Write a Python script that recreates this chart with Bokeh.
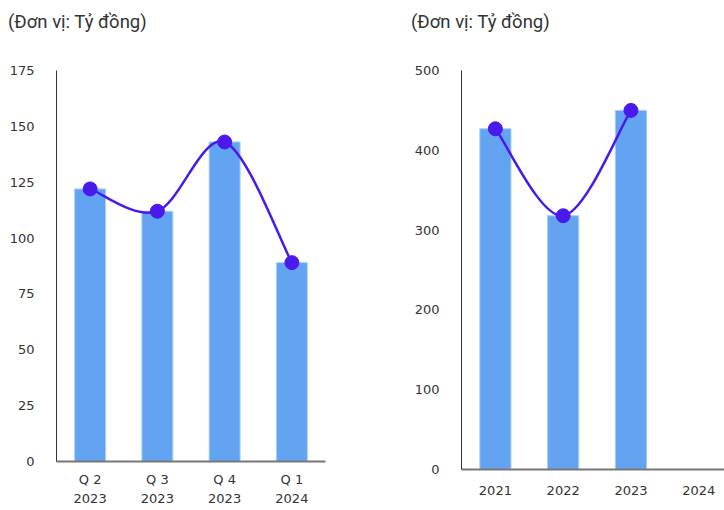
from bokeh.plotting import figure
from bokeh.layouts import row, column
from bokeh.models import Range1d, FixedTicker, LinearAxis, Div
from bokeh.embed import file_html
from bokeh.resources import INLINE

# ---- data ----
q_labels = ["Q 2", "Q 3", "Q 4", "Q 1"]
q_years = ["2023", "2023", "2023", "2024"]
q_values = [122, 112, 143, 89]
y_labels = ["2021", "2022", "2023", "2024"]
y_values = [427, 318, 450]
unit_title = "(Đơn vị: Tỷ đồng)"

BAR = "#63A4F2"
BAR_EDGE = "#A8CCF8"
LINE = "#4A1AEC"
TXT = "#333333"
TICK_FONT = "DejaVu Sans"


def catmull_rom(xs, ys):
    n = len(xs)
    x0, y0, x1, y1, cx0, cy0, cx1, cy1 = ([] for _ in range(8))
    for i in range(n - 1):
        pm = max(i - 1, 0)
        pp = min(i + 2, n - 1)
        x0.append(xs[i]); y0.append(ys[i])
        x1.append(xs[i + 1]); y1.append(ys[i + 1])
        cx0.append(xs[i] + (xs[i + 1] - xs[pm]) / 6)
        cy0.append(ys[i] + (ys[i + 1] - ys[pm]) / 6)
        cx1.append(xs[i + 1] - (xs[pp] - xs[i]) / 6)
        cy1.append(ys[i + 1] - (ys[pp] - ys[i]) / 6)
    return dict(x0=x0, y0=y0, x1=x1, y1=y1, cx0=cx0, cy0=cy0, cx1=cx1, cy1=cy1)


def style_axis(ax):
    ax.major_tick_line_color = None
    ax.minor_tick_line_color = None
    ax.major_label_text_font = TICK_FONT
    ax.major_label_text_font_size = "13px"
    ax.major_label_text_color = TXT


def make_chart(labels, values, ymax, ystep, fw, fh, xmax, bl, br, bb, pad, years=None):
    p = figure(frame_width=fw, frame_height=fh, output_backend="svg", toolbar_location=None,
               x_range=Range1d(0.5, xmax), y_range=Range1d(0, ymax),
               min_border_left=bl, min_border_right=br,
               min_border_top=26, min_border_bottom=bb)
    p.border_fill_color = "white"
    p.outline_line_color = None
    p.grid.visible = False

    xs = list(range(1, len(values) + 1))
    p.vbar(x=xs, top=values, width=0.46, fill_color=BAR, line_color=BAR_EDGE, line_width=1)
    p.bezier(**catmull_rom(xs, values), line_color=LINE, line_width=2.5)
    p.scatter(xs, values, size=14, fill_color=LINE, line_color=LINE)

    ticks = list(range(1, len(labels) + 1))
    xax = p.below[0]
    xax.ticker = FixedTicker(ticks=ticks)
    xax.major_label_overrides = {t: l for t, l in zip(ticks, labels)}
    yax = p.left[0]
    yax.ticker = FixedTicker(ticks=list(range(0, ymax + 1, ystep)))
    style_axis(xax)
    style_axis(yax)
    yax.axis_line_color = "#333333"
    yax.axis_line_width = 1
    yax.major_label_standoff = 16
    xax.axis_line_color = "#777777"
    xax.axis_line_width = 2
    if years is not None:
        xax.major_label_standoff = 4
        ax2 = LinearAxis(ticker=FixedTicker(ticks=ticks),
                         major_label_overrides={t: y for t, y in zip(ticks, years)},
                         axis_line_color=None, major_label_standoff=-2)
        style_axis(ax2)
        p.add_layout(ax2, "below")
    else:
        xax.major_label_standoff = 10

    width = bl + fw + br
    head = Div(text=unit_title, width=width - pad, height=44, margin=(0, 0, 0, pad),
               styles={"font-family": "Roboto", "font-size": "18.5px", "color": TXT,
                       "line-height": "44px", "white-space": "nowrap"})
    return column(head, p, spacing=0)


c1 = make_chart(q_labels, q_values, 175, 25, 269, 391, 4.5, 56, 86, 49, 8, years=q_years)
c2 = make_chart(y_labels, y_values, 500, 100, 265, 399, 4.41, 48, 0, 41, 0)

layout = row(c1, c2, spacing=0)
open("out.html", "w").write(file_html(layout, INLINE))
